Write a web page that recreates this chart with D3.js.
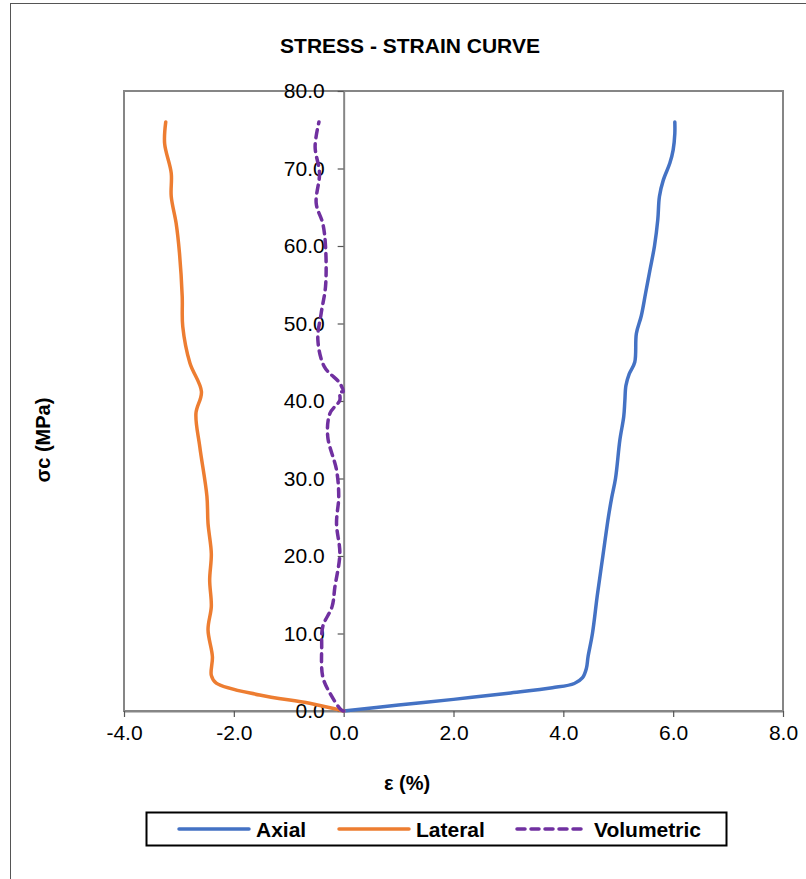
<!DOCTYPE html>
<html>
<head>
<meta charset="utf-8">
<script src="https://cdn.jsdelivr.net/npm/d3@7"></script>
<style>
  body { margin: 0; background: #fff; }
  svg { display: block; font-family: "Liberation Sans", Arial, sans-serif; }
</style>
</head>
<body>
<svg id="chart" width="806" height="879"></svg>
<script>
// strain (%) and stress (MPa)
var axialStrain = [0, 1.0, 2.0, 3.0, 3.8, 4.2, 4.35, 4.42, 4.45, 4.53, 4.62, 4.72, 4.82, 4.88, 4.95, 5.03, 5.1, 5.12, 5.14, 5.2, 5.3, 5.33, 5.42, 5.5, 5.58, 5.66, 5.72, 5.75, 5.82, 5.94, 6.0, 6.03, 6.03];
var axialStress = [0, 0.77, 1.5, 2.3, 3.0, 3.55, 4.3, 5.5, 7, 10, 15, 20, 25, 27.5, 30, 35, 38, 40, 42, 43.5, 45, 48.7, 51, 54, 57, 60, 63.4, 66.4, 68.5, 70.7, 72.4, 74.5, 76];

var lateralStrain = [0, -0.62, -1.53, -2.32, -2.41, -2.39, -2.47, -2.41, -2.44, -2.41, -2.47, -2.49, -2.62, -2.69, -2.59, -2.80, -2.93, -2.94, -2.99, -3.05, -3.14, -3.14, -3.26, -3.24];
var lateralStress = [0, 0.99, 2.06, 3.6, 4.6, 7.0, 10.5, 13.5, 16.9, 20.3, 24.2, 27.7, 34.1, 38.4, 41.2, 44.9, 49.6, 53.5, 59.1, 62.9, 66.4, 69.4, 73.2, 76];

var volStrain = [0, -0.04, -0.25, -0.38, -0.40, -0.38, -0.21, -0.16, -0.07, -0.13, -0.09, -0.13, -0.29, -0.25, -0.07, -0.07, -0.01, -0.07, -0.35, -0.47, -0.41, -0.33, -0.33, -0.38, -0.50, -0.44, -0.52, -0.45];
var volStress = [0, 0.1, 2.3, 4.4, 8.3, 10.9, 13.5, 16.0, 20.3, 24.2, 27.7, 31.1, 35.4, 38.4, 40.1, 41.2, 41.2, 42.3, 44.4, 47.9, 51.3, 54.8, 59.9, 62.9, 65.5, 69.4, 72.8, 76];

var xTicks = [-4, -2, 0, 2, 4, 6, 8];
var yTicks = [0, 10, 20, 30, 40, 50, 60, 70, 80];

var seriesNames = ["Axial", "Lateral", "Volumetric"];
var seriesColors = ["#4472C4", "#ED7D31", "#7030A0"];

var svg = d3.select("#chart");

// outer chart border (right/bottom edges are cut off in the picture)
svg.append("rect")
  .attr("x", 10.5).attr("y", 3.5)
  .attr("width", 900).attr("height", 1000)
  .attr("fill", "none").attr("stroke", "#555").attr("stroke-width", 1);

var plot = {left: 124, top: 91, right: 783, bottom: 711};

var x = d3.scaleLinear().domain([-4, 8]).range([plot.left, plot.right]);
var y = d3.scaleLinear().domain([0, 80]).range([plot.bottom, plot.top]);

// plot area frame
svg.append("rect")
  .attr("x", plot.left).attr("y", plot.top)
  .attr("width", plot.right - plot.left).attr("height", plot.bottom - plot.top)
  .attr("fill", "none").attr("stroke", "#868686").attr("stroke-width", 2);

// plain hyphen for negatives, like the spreadsheet
var fmt = function (d) { return d.toFixed(1); };

// x axis along the bottom
var gx = svg.append("g")
  .attr("transform", "translate(0," + plot.bottom + ")")
  .call(d3.axisBottom(x).tickValues(xTicks).tickFormat(fmt).tickSize(6).tickSizeOuter(0).tickPadding(8));
gx.select(".domain").attr("stroke", "#868686").attr("stroke-width", 2);
gx.selectAll(".tick line").attr("stroke", "#555").attr("stroke-width", 1.2);
gx.selectAll(".tick text").attr("font-size", 21).attr("fill", "#000")
  .attr("font-family", "Liberation Sans, Arial, sans-serif");

// y axis crossing at x = 0
var gy = svg.append("g")
  .attr("transform", "translate(" + x(0) + ",0)")
  .call(d3.axisLeft(y).tickValues(yTicks).tickFormat(fmt).tickSize(6).tickSizeOuter(0).tickPadding(13));
gy.select(".domain").attr("stroke", "#868686").attr("stroke-width", 2);
gy.selectAll(".tick line").attr("stroke", "#555").attr("stroke-width", 1.2);
gy.selectAll(".tick text").attr("font-size", 21).attr("fill", "#000")
  .attr("font-family", "Liberation Sans, Arial, sans-serif");

var line = d3.line()
  .x(function (d) { return x(d[0]); })
  .y(function (d) { return y(d[1]); })
  .curve(d3.curveCatmullRom.alpha(0.5));

var series = [
  d3.zip(axialStrain, axialStress),
  d3.zip(lateralStrain, lateralStress),
  d3.zip(volStrain, volStress)
];

series.forEach(function (pts, i) {
  svg.append("path")
    .datum(pts)
    .attr("fill", "none")
    .attr("stroke", seriesColors[i])
    .attr("stroke-width", 3.5)
    .attr("stroke-linecap", "round")
    .attr("stroke-linejoin", "round")
    .attr("stroke-dasharray", i === 2 ? "8,6" : null)
    .attr("d", line);
});

// titles
svg.append("text")
  .attr("x", 410).attr("y", 53)
  .attr("text-anchor", "middle")
  .attr("font-size", 21).attr("font-weight", "bold")
  .text("STRESS - STRAIN CURVE");

svg.append("text")
  .attr("x", 407).attr("y", 790)
  .attr("text-anchor", "middle")
  .attr("font-size", 20).attr("font-weight", "bold")
  .text("ε (%)");

svg.append("text")
  .attr("transform", "translate(50,440) rotate(-90)")
  .attr("text-anchor", "middle")
  .attr("font-size", 20).attr("font-weight", "bold")
  .text("σc (MPa)");

// legend
var legend = svg.append("g");
legend.append("rect")
  .attr("x", 146.5).attr("y", 812.5)
  .attr("width", 580).attr("height", 33)
  .attr("fill", "#fff").attr("stroke", "#000").attr("stroke-width", 2);

var legendX = [179, 339, 517];
seriesNames.forEach(function (name, i) {
  legend.append("line")
    .attr("x1", legendX[i]).attr("x2", legendX[i] + 70)
    .attr("y1", 829).attr("y2", 829)
    .attr("stroke", seriesColors[i])
    .attr("stroke-width", 3.5)
    .attr("stroke-linecap", "round")
    .attr("stroke-dasharray", i === 2 ? "8,6" : null);
  legend.append("text")
    .attr("x", legendX[i] + 77).attr("y", 837)
    .attr("font-size", 21).attr("font-weight", "bold")
    .text(name);
});
</script>
</body>
</html>
